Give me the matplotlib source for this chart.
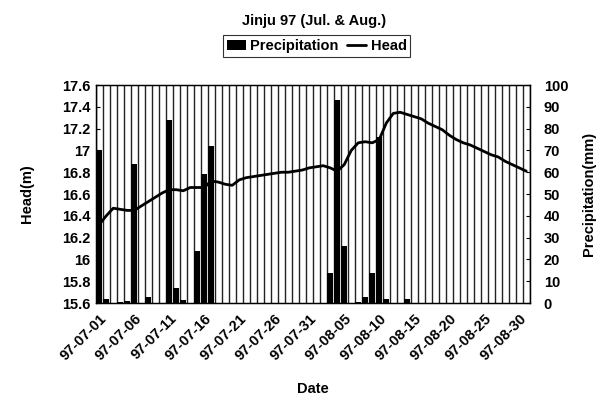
"""Jinju 97 (Jul. & Aug.) groundwater head vs. precipitation."""

import matplotlib.pyplot as plt
import numpy as np
import pandas as pd

plt.rcParams['font.family'] = ['Liberation Sans', 'DejaVu Sans']
plt.rcParams['font.weight'] = 'bold'
plt.rcParams['axes.labelweight'] = 'bold'

# Daily categories, 97-07-01 .. 97-08-31
dates = pd.date_range('1997-07-01', '1997-08-31').strftime('%y-%m-%d').tolist()

# Daily precipitation (mm), right axis
precip = [
    70, 2, 0, 0.5, 1, 64, 0, 3, 0, 0,
    84, 7, 1.5, 0, 24, 59, 72, 0, 0, 0,
    0, 0, 0, 0, 0, 0, 0, 0, 0, 0,
    0, 0, 0, 14, 93, 26, 0, 0.5, 3, 14,
    76, 2, 0, 0, 2, 0, 0, 0, 0, 0,
    0, 0, 0, 0, 0, 0, 0, 0, 0, 0,
    0, 0,
]

# Groundwater head (m), left axis
head = [
    16.32, 16.40, 16.47, 16.46, 16.45, 16.45, 16.49, 16.53, 16.57, 16.61,
    16.64, 16.64, 16.63, 16.66, 16.66, 16.66, 16.72, 16.71, 16.69, 16.68,
    16.73, 16.75, 16.76, 16.77, 16.78, 16.79, 16.80, 16.80, 16.81, 16.82,
    16.84, 16.85, 16.86, 16.84, 16.81, 16.87, 17.00, 17.07, 17.08, 17.07,
    17.10, 17.25, 17.34, 17.35, 17.33, 17.31, 17.29, 17.25, 17.22, 17.19,
    17.14, 17.10, 17.07, 17.05, 17.02, 16.99, 16.96, 16.94, 16.90, 16.87,
    16.84, 16.81,
]

fig = plt.figure(figsize=(6.02, 4.03), dpi=100)
ax = fig.add_axes([0.159, 0.248, 0.721, 0.541])
ax2 = ax.twinx()

x = np.arange(len(dates))
bars = ax2.bar(x, precip, width=0.8, color='black', label='Precipitation')
line, = ax.plot(x, head, color='black', lw=2.0, label='Head',
                solid_joinstyle='round', solid_capstyle='round')

# keep the head line above the bars
ax.set_zorder(ax2.get_zorder() + 1)
ax.patch.set_visible(False)

ax.set_xlim(-0.5, len(dates) - 0.5)
ax.set_ylim(15.6, 17.6)
ax2.set_ylim(0, 100)

# one vertical gridline per day
for b in np.arange(-0.5, len(dates)):
    ax2.axvline(b, color='#222222', lw=1.0, zorder=0)

yt = np.round(np.arange(15.6, 17.61, 0.2), 1)
ax.set_yticks(yt)
ax.set_yticklabels(['{:g}'.format(v) for v in yt], fontsize=10.5)
ax2.set_yticks(np.arange(0, 101, 10))
ax2.set_yticklabels([str(v) for v in range(0, 101, 10)], fontsize=10.5)
ax.tick_params(axis='y', direction='in', length=3, pad=4)
ax2.tick_params(axis='y', direction='in', length=3, pad=10)

ax.set_xticks(x[::5])
ax.set_xticklabels(dates[::5], rotation=45, ha='right', rotation_mode='anchor', fontsize=10.5)
ax.tick_params(axis='x', length=0, pad=6)

ax.set_ylabel('Head(m)', fontsize=10.5, labelpad=20)
ax2.set_ylabel('Precipitation(mm)', fontsize=10.5, rotation=90, labelpad=10)
ax.set_xlabel('Date', fontsize=10.5, labelpad=14)

for a in (ax, ax2):
    for s in a.spines.values():
        s.set_linewidth(0.9)

fig.text(0.522, 0.948, 'Jinju 97 (Jul. & Aug.)', ha='center', va='center', fontsize=10.5)
leg = fig.legend([bars, line], ['Precipitation', 'Head'], loc='center',
                 bbox_to_anchor=(0.526, 0.886), ncol=2, fontsize=10.5,
                 frameon=True, fancybox=False, edgecolor='black',
                 handlelength=1.3, handleheight=0.7, columnspacing=0.6,
                 handletextpad=0.3, borderpad=0.25, borderaxespad=0)
leg.get_frame().set_linewidth(0.8)

fig.savefig('out.png', dpi=100)
